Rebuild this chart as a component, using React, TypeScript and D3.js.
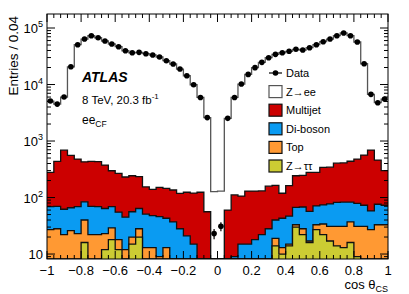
import { useEffect, useRef } from "react";
import * as d3 from "d3";

// 50 bins of 0.04 in cos(theta_CS), from -1 to 1
const binLow = -1;
const binWidth = 0.04;

const dataCounts = [
  5100, 4500, 6000, 20600, 50700, 63800, 73000, 67300, 58900, 52100,
  46700, 39600, 36500, 37100, 35100, 33300, 30700, 26400, 23100, 18800,
  14300, 9900, 5900, 2600, 23, 31, 2520, 5900, 10200, 15100,
  19900, 24700, 29800, 34200, 36500, 38700, 42000, 40800, 44800, 50700,
  57300, 63800, 73100, 81600, 73100, 56600, 23300, 6700, 4770, 5530,
];

const zee = [
  4820, 4060, 5310, 20040, 50220, 63370, 72560, 66870, 58520, 51800,
  46430, 39370, 36260, 36870, 34950, 33160, 30550, 26250, 22960, 18680,
  14180, 9780, 5780, 2540, 127, 130, 2460, 5790, 10090, 14970,
  19770, 24570, 29640, 34040, 36380, 38540, 41760, 40550, 44520, 50420,
  56960, 63460, 72700, 81190, 72660, 56120, 22740, 6010, 4310, 5230,
];

const multijet = [
  210, 367, 627, 492, 411, 344, 366, 362, 312, 229,
  213, 186, 187, 170, 103, 92, 105, 102, 99, 90,
  103, 105, 124, 56, 0, 0, 60, 102, 91, 115,
  112, 109, 131, 124, 76, 115, 176, 179, 222, 208,
  267, 268, 323, 327, 356, 401, 492, 635, 384, 227,
];

const diboson = [
  42, 42, 40, 40, 46, 44, 48, 47, 41, 40,
  37, 33, 36, 36, 38, 35, 37, 30, 37, 28,
  21, 15, 0, 0, 0, 0, 0, 9, 15, 15,
  18, 22, 28, 21, 30, 32, 34, 40, 40, 38,
  40, 46, 51, 52, 46, 48, 42, 31, 43, 40,
];

const top = [
  27, 28, 22, 26, 23, 24, 22, 22, 11, 11,
  6, 12, 5, 8, 13, 13, 9, 13, 0, 0,
  0, 0, 0, 0, 0, 0, 0, 0, 0, 0,
  0, 0, 0, 5, 3, 1, 3, 6, 1, 6,
  12, 14, 17, 18, 21, 22, 31, 27, 33, 33,
];

const ztautau = [
  0, 0, 0, 0, 0, 16, 0, 0, 12, 18,
  12, 0, 15, 20, 0, 0, 0, 0, 0, 0,
  0, 0, 0, 0, 0, 0, 0, 0, 0, 0,
  0, 0, 0, 14, 10, 14, 30, 22, 16, 27,
  22, 17, 14, 13, 16, 9, 0, 0, 0, 0,
];

// stack order from the bottom up
const components = [
  { key: "ztautau", label: "Z\u2192\u03c4\u03c4", values: ztautau, fill: "#cccc33", stroke: "#111" },
  { key: "top", label: "Top", values: top, fill: "#ff9933", stroke: "#111" },
  { key: "diboson", label: "Di-boson", values: diboson, fill: "#0a9bf2", stroke: "#111" },
  { key: "multijet", label: "Multijet", values: multijet, fill: "#cc0000", stroke: "#111" },
  { key: "zee", label: "Z\u2192ee", values: zee, fill: "#ffffff", stroke: "#555" },
];

const xTickLabels = ["\u22121", "\u22120.8", "\u22120.6", "\u22120.4", "\u22120.2", "0", "0.2", "0.4", "0.6", "0.8", "1"];
const yDecades = [1, 2, 3, 4, 5];

function App() {
  const ref = useRef(null);

  useEffect(() => {
    const width = 409;
    const height = 294;
    const margin = { left: 47, right: 21, top: 14, bottom: 35 };
    const font = "'Liberation Sans', Arial, Helvetica, sans-serif";

    const x0 = margin.left;
    const x1 = width - margin.right;
    const y0 = height - margin.bottom;
    const y1 = margin.top;

    const nBins = dataCounts.length;
    const edges = d3.range(nBins + 1).map((i) => binLow + i * binWidth);

    const xScale = d3.scaleLinear([-1, 1], [x0, x1]);
    const yScale = d3.scaleLog([8.17, 1.77e5], [y0, y1]).clamp(true);

    const svg = d3
      .select(ref.current)
      .append("svg")
      .attr("width", width)
      .attr("height", height)
      .style("position", "absolute")
      .style("left", "0px")
      .style("top", "0px")
      .style("background", "#fff");

    svg
      .append("defs")
      .append("clipPath")
      .attr("id", "plotclip")
      .append("rect")
      .attr("x", x0)
      .attr("y", y1)
      .attr("width", x1 - x0)
      .attr("height", y0 - y1);

    // cumulative stack
    const rows = d3.range(nBins).map((i) => {
      const r = { i };
      components.forEach((c) => (r[c.key] = c.values[i]));
      return r;
    });
    const stacked = d3.stack().keys(components.map((c) => c.key))(rows);

    const safe = (v) => yScale(Math.max(v, 1));

    const g = svg.append("g").attr("clip-path", "url(#plotclip)");

    // draw from the top of the stack downwards so lower layers sit on top
    const layers = stacked.map((s, k) => ({ s, c: components[k] })).reverse();

    layers.forEach(({ s, c }) => {
      const pts = s.map((d, i) => ({ x: edges[i], v: d[1] }));
      pts.push({ x: edges[nBins], v: s[nBins - 1][1] });

      const area = d3
        .area()
        .curve(d3.curveStepAfter)
        .x((d) => xScale(d.x))
        .y0(y0 + 2)
        .y1((d) => safe(d.v));

      const line = d3
        .line()
        .curve(d3.curveStepAfter)
        .x((d) => xScale(d.x))
        .y((d) => safe(d.v));

      g.append("path").attr("d", area(pts)).attr("fill", c.fill);
      g.append("path")
        .attr("d", line(pts))
        .attr("fill", "none")
        .attr("stroke", c.stroke)
        .attr("stroke-width", 1.3);
    });

    // data points with sqrt(N) errors
    const centers = d3.range(nBins).map((i) => edges[i] + binWidth / 2);
    dataCounts.forEach((n, i) => {
      const err = Math.sqrt(n);
      g.append("line")
        .attr("x1", xScale(centers[i]))
        .attr("x2", xScale(centers[i]))
        .attr("y1", safe(n - err))
        .attr("y2", safe(n + err))
        .attr("stroke", "#000")
        .attr("stroke-width", 1.2);
      g.append("circle")
        .attr("cx", xScale(centers[i]))
        .attr("cy", yScale(n))
        .attr("r", 2.8)
        .attr("fill", "#000");
    });

    // frame
    svg
      .append("rect")
      .attr("x", x0)
      .attr("y", y1)
      .attr("width", x1 - x0)
      .attr("height", y0 - y1)
      .attr("fill", "none")
      .attr("stroke", "#000")
      .attr("stroke-width", 1);

    const ticks = svg.append("g").attr("stroke", "#000").attr("stroke-width", 1);

    // x ticks, top and bottom
    d3.range(51).forEach((i) => {
      const v = -1 + i * 0.04;
      const len = i % 5 === 0 ? 8 : 4;
      const px = xScale(v);
      ticks.append("line").attr("x1", px).attr("x2", px).attr("y1", y0).attr("y2", y0 - len);
      ticks.append("line").attr("x1", px).attr("x2", px).attr("y1", y1).attr("y2", y1 + len);
    });

    // y ticks, left and right (log)
    [0, 1, 2, 3, 4, 5].forEach((dec) => {
      d3.range(1, 10).forEach((m) => {
        const v = m * Math.pow(10, dec);
        if (v < 8.17 || v > 1.77e5) return;
        const py = yScale(v);
        const len = m === 1 ? 8 : 4;
        ticks.append("line").attr("x1", x0).attr("x2", x0 + len).attr("y1", py).attr("y2", py);
        ticks.append("line").attr("x1", x1).attr("x2", x1 - len).attr("y1", py).attr("y2", py);
      });
    });

    // x tick labels
    xTickLabels.forEach((t, i) => {
      svg
        .append("text")
        .attr("x", xScale(-1 + i * 0.2))
        .attr("y", y0 + 16)
        .attr("text-anchor", "middle")
        .attr("font-family", font)
        .attr("font-size", 13)
        .text(t);
    });

    // y tick labels
    yDecades.forEach((dec) => {
      const t = svg
        .append("text")
        .attr("x", x0 - 4)
        .attr("y", yScale(Math.pow(10, dec)) + 5)
        .attr("text-anchor", "end")
        .attr("font-family", font)
        .attr("font-size", 13)
        .text("10");
      if (dec > 1) {
        t.append("tspan").attr("dy", -6).attr("font-size", 9).text(dec);
      }
    });

    // axis titles
    const xt = svg
      .append("text")
      .attr("x", x1)
      .attr("y", 289)
      .attr("text-anchor", "end")
      .attr("font-family", font)
      .attr("font-size", 13)
      .text("cos \u03b8");
    xt.append("tspan").attr("dy", 3).attr("font-size", 9).text("CS");

    svg
      .append("text")
      .attr("transform", `translate(18, ${y1 + 2}) rotate(-90)`)
      .attr("text-anchor", "end")
      .attr("font-family", font)
      .attr("font-size", 13.5)
      .text("Entries / 0.04");

    // ATLAS label
    svg
      .append("text")
      .attr("x", 82)
      .attr("y", 82)
      .attr("font-family", font)
      .attr("font-size", 14)
      .attr("font-weight", "bold")
      .attr("font-style", "italic")
      .text("ATLAS");

    const lumi = svg
      .append("text")
      .attr("x", 82)
      .attr("y", 104)
      .attr("font-family", font)
      .attr("font-size", 11.5)
      .text("8 TeV, 20.3 fb");
    lumi.append("tspan").attr("dy", -5).attr("font-size", 8).text("-1");

    const chan = svg
      .append("text")
      .attr("x", 82)
      .attr("y", 124)
      .attr("font-family", font)
      .attr("font-size", 12)
      .text("ee");
    chan.append("tspan").attr("dy", 3).attr("font-size", 8.5).text("CF");

    // legend
    const legX = 269;
    const legY0 = 73;
    const legStep = 18.6;
    const leg = svg.append("g");

    leg.append("line")
      .attr("x1", legX)
      .attr("x2", legX + 13)
      .attr("y1", legY0)
      .attr("y2", legY0)
      .attr("stroke", "#000")
      .attr("stroke-width", 1.2);
    leg.append("circle").attr("cx", legX + 6.5).attr("cy", legY0).attr("r", 2.8).attr("fill", "#000");
    leg.append("text")
      .attr("x", legX + 17)
      .attr("y", legY0 + 4)
      .attr("font-family", font)
      .attr("font-size", 11)
      .text("Data");

    components
      .slice()
      .reverse()
      .forEach((c, k) => {
        const cy = legY0 + legStep * (k + 1);
        leg.append("rect")
          .attr("x", legX)
          .attr("y", cy - 6)
          .attr("width", 13)
          .attr("height", 12)
          .attr("fill", c.fill)
          .attr("stroke", c.stroke)
          .attr("stroke-width", 1.2);
        leg.append("text")
          .attr("x", legX + 17)
          .attr("y", cy + 4)
          .attr("font-family", font)
          .attr("font-size", 11)
          .text(c.label);
      });

    return () => {
      d3.select(ref.current).select("svg").remove();
    };
  }, []);

  return <div ref={ref}></div>;
}

export default App;
